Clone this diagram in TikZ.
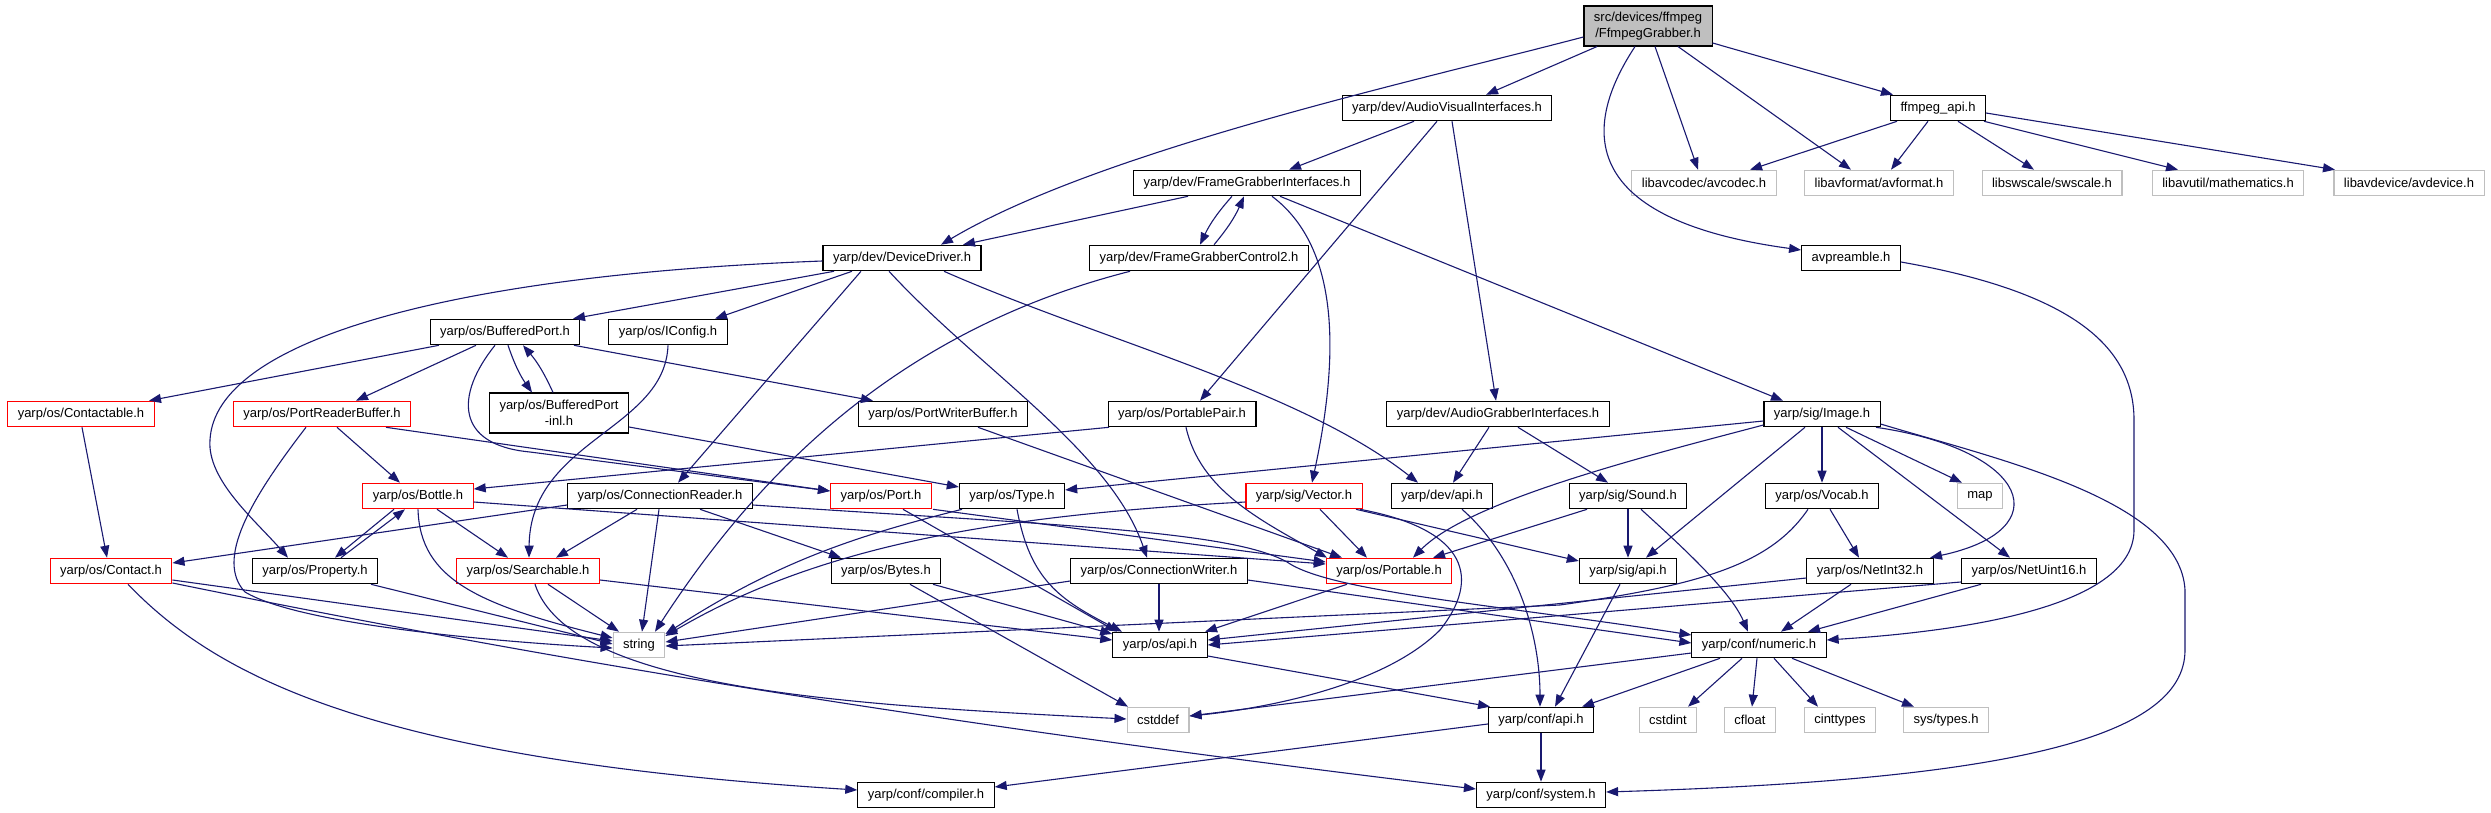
\documentclass[tikz,border=0pt]{standalone}
\usepackage{fontspec}
\setmainfont{Liberation Sans}
\usetikzlibrary{arrows.meta}
\definecolor{edgeblue}{RGB}{25,25,112}
\definecolor{nodegray}{RGB}{191,191,191}
\begin{document}
\begin{tikzpicture}[x=1pt,y=-1pt,
 box/.style={draw=black, rectangle, line width=1.1pt, minimum height=25.5pt, inner xsep=10pt, inner ysep=0pt, font=\fontsize{13}{15.5}\selectfont, text=black},
 redbox/.style={box, draw=red},
 graybox/.style={box, draw=nodegray},
 rootbox/.style={box, fill=nodegray, minimum height=40pt, align=center},
 e/.style={draw=edgeblue, line width=1.1pt, -{Triangle[length=12pt,width=9pt]}}
]
\fill[white] (0,0) rectangle (2491,813);
\useasboundingbox (0,0) rectangle (2491,813);
% nodes
\node[rootbox] (root) at (1648,26) {src/devices/ffmpeg\\/FfmpegGrabber.h};
\node[box] (avi) at (1447,108) {yarp/dev/AudioVisualInterfaces.h};
\node[box] (ffapi) at (1938,108) {ffmpeg\_api.h};
\node[box] (fgi) at (1247,183) {yarp/dev/FrameGrabberInterfaces.h};
\node[graybox] (avcodec) at (1704,183) {libavcodec/avcodec.h};
\node[graybox] (avformat) at (1879,183) {libavformat/avformat.h};
\node[graybox] (swscale) at (2052,183) {libswscale/swscale.h};
\node[graybox] (mathem) at (2228,183) {libavutil/mathematics.h};
\node[graybox] (avdevice) at (2409,183) {libavdevice/avdevice.h};
\node[box] (dd) at (902,258) {yarp/dev/DeviceDriver.h};
\node[box] (fgc2) at (1199,258) {yarp/dev/FrameGrabberControl2.h};
\node[box] (avpre) at (1851,258) {avpreamble.h};
\node[box] (bp) at (505,332) {yarp/os/BufferedPort.h};
\node[box] (iconfig) at (668,332) {yarp/os/IConfig.h};
\node[redbox] (contactable) at (81,414) {yarp/os/Contactable.h};
\node[redbox] (prb) at (322,414) {yarp/os/PortReaderBuffer.h};
\node[box, minimum height=40pt, align=center] (bpinl) at (559,413) {yarp/os/BufferedPort\\-inl.h};
\node[box] (pwb) at (943,414) {yarp/os/PortWriterBuffer.h};
\node[box] (ppair) at (1182,414) {yarp/os/PortablePair.h};
\node[box] (agi) at (1498,414) {yarp/dev/AudioGrabberInterfaces.h};
\node[box] (image) at (1822,414) {yarp/sig/Image.h};
\node[redbox] (bottle) at (418,496) {yarp/os/Bottle.h};
\node[box] (cr) at (660,496) {yarp/os/ConnectionReader.h};
\node[redbox] (port) at (881,496) {yarp/os/Port.h};
\node[box] (type) at (1012,496) {yarp/os/Type.h};
\node[redbox] (vector) at (1304,496) {yarp/sig/Vector.h};
\node[box] (devapi) at (1442,496) {yarp/dev/api.h};
\node[box] (sound) at (1628,496) {yarp/sig/Sound.h};
\node[box] (vocab) at (1822,496) {yarp/os/Vocab.h};
\node[graybox] (map) at (1980,496) {map};
\node[redbox] (contact) at (111,571) {yarp/os/Contact.h};
\node[box] (property) at (315,571) {yarp/os/Property.h};
\node[redbox] (searchable) at (528,571) {yarp/os/Searchable.h};
\node[box] (bytes) at (886,571) {yarp/os/Bytes.h};
\node[box] (cw) at (1159,571) {yarp/os/ConnectionWriter.h};
\node[redbox] (portable) at (1389,571) {yarp/os/Portable.h};
\node[box] (sigapi) at (1628,571) {yarp/sig/api.h};
\node[box] (netint32) at (1870,571) {yarp/os/NetInt32.h};
\node[box] (netuint16) at (2029,571) {yarp/os/NetUint16.h};
\node[graybox] (string) at (639,645) {string};
\node[box] (osapi) at (1160,645) {yarp/os/api.h};
\node[box] (numeric) at (1759,645) {yarp/conf/numeric.h};
\node[graybox] (cstddef) at (1158,720) {cstddef};
\node[box] (confapi) at (1541,720) {yarp/conf/api.h};
\node[graybox] (cstdint) at (1668,720) {cstdint};
\node[graybox] (cfloat) at (1750,720) {cfloat};
\node[graybox] (cinttypes) at (1840,720) {cinttypes};
\node[graybox] (systypes) at (1946,720) {sys/types.h};
\node[box] (compiler) at (926,795) {yarp/conf/compiler.h};
\node[box] (system) at (1541,795) {yarp/conf/system.h};
% edges from root
\draw[e] ([yshift=-11pt]root.west) .. controls (1420,80) and (1100,150) .. ([xshift=39pt]dd.north);
\draw[e] ([xshift=-51pt]root.south) -- ([xshift=39pt]avi.north);
\draw[e] ([xshift=7pt]root.south) -- ([xshift=-6pt]avcodec.north);
\draw[e] ([xshift=30pt]root.south) -- ([xshift=-28pt]avformat.north);
\draw[e] ([yshift=-17pt]root.east) -- ([xshift=-45pt]ffapi.north);
\draw[e] ([xshift=-13pt]root.south) .. controls (1580,130) and (1580,220) .. ([yshift=8pt]avpre.west);
\draw[e] ([xshift=-33pt]avi.south) -- ([xshift=42pt]fgi.north);
\draw[e] ([xshift=-10pt]avi.south) -- ([xshift=18pt]ppair.north);
\draw[e] ([xshift=5pt]avi.south) -- ([xshift=-2pt]agi.north);
\draw[e] ([xshift=-41pt]ffapi.south) -- ([xshift=46pt]avcodec.north);
\draw[e] ([xshift=-10pt]ffapi.south) -- ([xshift=12pt]avformat.north);
\draw[e] ([xshift=20pt]ffapi.south) -- ([xshift=-18pt]swscale.north);
\draw[e] ([xshift=46pt]ffapi.south) -- ([xshift=-50pt]mathem.north);
\draw[e] ([yshift=-5pt]ffapi.east) -- ([xshift=-74pt]avdevice.north);
\draw[e] ([yshift=-4pt]avpre.east) .. controls (2060,290) and (2134,340) .. (2134,420) -- (2134,530) .. controls (2134,610) and (1950,632) .. ([yshift=5pt]numeric.east);
\draw[e] ([xshift=-59pt]fgi.south) -- ([xshift=61pt]dd.north);
\draw[e] ([xshift=-15pt]fgi.south) to[bend right=8] ([xshift=1pt]fgc2.north);
\draw[e] ([xshift=15pt]fgc2.north) to[bend right=8] ([xshift=-3pt]fgi.south);
\draw[e] ([xshift=25pt]fgi.south) .. controls (1330,240) and (1345,330) .. ([xshift=8pt]vector.north);
\draw[e] ([xshift=33pt]fgi.south) -- ([xshift=-39pt]image.north);
\draw[e] ([xshift=-69pt]fgc2.south) .. controls (900,330) and (760,470) .. ([xshift=16pt]string.north);
% DeviceDriver
\draw[e] ([yshift=-3pt]dd.west) .. controls (450,275) and (215,340) .. (210,440) .. controls (207,480) and (255,520) .. ([xshift=-27pt]property.north);
\draw[e] ([xshift=-68pt]dd.south) -- ([xshift=68pt]bp.north);
\draw[e] ([xshift=-50pt]dd.south) -- ([xshift=47pt]iconfig.north);
\draw[e] ([xshift=-41pt]dd.south) -- ([xshift=18pt]cr.north);
\draw[e] ([xshift=-13pt]dd.south) .. controls (980,370) and (1110,450) .. ([xshift=-12pt]cw.north);
\draw[e] ([xshift=42pt]dd.south) .. controls (1100,340) and (1300,390) .. ([xshift=-24pt]devapi.north);
% BufferedPort
\draw[e] ([xshift=-66pt]bp.south) -- ([xshift=68pt]contactable.north);
\draw[e] ([xshift=-29pt]bp.south) -- ([xshift=34pt]prb.north);
\draw[e] ([xshift=-10pt]bp.south) .. controls (455,395) and (455,445) .. (530,452) -- ([yshift=5pt]port.west);
\draw[e] ([xshift=3pt]bp.south) to[bend right=8] ([xshift=-27pt]bpinl.north);
\draw[e] ([xshift=-6pt]bpinl.north) to[bend right=8] ([xshift=18pt]bp.south);
\draw[e] ([xshift=69pt]bp.south) -- ([xshift=-70pt]pwb.north);
\draw[e] ([yshift=-14pt]bpinl.east) -- ([yshift=9pt]type.west);
\draw[e] (iconfig.south) .. controls (665,430) and (530,440) .. ([xshift=1pt]searchable.north);
\draw[e] ([xshift=1pt]contactable.south) -- ([xshift=-4pt]contact.north);
\draw[e] ([xshift=15pt]prb.south) -- ([xshift=-18pt]bottle.north);
\draw[e] ([xshift=-16pt]prb.south) .. controls (250,500) and (215,560) .. (245,592) .. controls (300,625) and (500,642) .. ([yshift=-3pt]string.west);
\draw[e] ([xshift=64pt]prb.south) -- ([yshift=5pt]port.west);
\draw[e] ([xshift=35pt]pwb.south) -- ([xshift=-47pt]portable.north);
\draw[e] ([xshift=-73pt]ppair.south) -- ([yshift=7pt]bottle.east);
\draw[e] ([xshift=4pt]ppair.south) .. controls (1200,490) and (1260,520) .. ([xshift=-62pt]portable.north);
\draw[e] ([xshift=-9pt]agi.south) -- ([xshift=11pt]devapi.north);
\draw[e] ([xshift=20pt]agi.south) -- ([xshift=-20pt]sound.north);
% Image
\draw[e] ([yshift=-7pt]image.west) -- ([yshift=6pt]type.east);
\draw[e] ([yshift=-11pt]image.west) .. controls (1650,455) and (1470,500) .. ([xshift=24pt]portable.north);
\draw[e] ([xshift=-17pt]image.south) -- ([xshift=18pt]sigapi.north);
\draw[e] (image.south) -- (vocab.north);
\draw[e] ([xshift=24pt]image.south) -- ([xshift=-18pt]map.north);
\draw[e] ([xshift=54pt]image.south) .. controls (2030,450) and (2060,530) .. ([xshift=60pt]netint32.north);
\draw[e] ([xshift=16pt]image.south) -- ([xshift=-19pt]netuint16.north);
\draw[e] ([yshift=-10pt]image.east) .. controls (2000,460) and (2180,500) .. (2185,590) -- (2185,650) .. controls (2185,740) and (2000,780) .. ([yshift=3pt]system.east);
% row 6
\draw[e] ([xshift=-24pt]bottle.south) -- ([xshift=20pt]property.north);
\draw[e] ([xshift=26pt]property.north) -- ([xshift=-13pt]bottle.south);
\draw[e] ([xshift=19pt]bottle.south) -- ([xshift=-20pt]searchable.north);
\draw[e] (bottle.south) .. controls (420,580) and (480,605) .. ([yshift=7pt]string.west);
\draw[e] ([yshift=-6pt]bottle.east) -- ([yshift=7pt]portable.west);
\draw[e] ([xshift=56pt]property.south) -- ([yshift=1pt]string.west);
\draw[e] ([yshift=-9pt]cr.west) -- ([yshift=8pt]contact.east);
\draw[e] ([xshift=-23pt]cr.south) -- ([xshift=28pt]searchable.north);
\draw[e] ([xshift=-1pt]cr.south) -- ([xshift=3pt]string.north);
\draw[e] ([xshift=40pt]cr.south) -- ([xshift=-45pt]bytes.north);
\draw[e] ([yshift=-9pt]cr.east) .. controls (1050,525) and (1230,530) .. (1287,562) .. controls (1330,592) and (1500,605) .. ([yshift=10pt]numeric.west);
\draw[e] ([xshift=52pt]port.south) -- ([yshift=9pt]portable.west);
\draw[e] ([xshift=22pt]port.south) -- ([xshift=-43pt]osapi.north);
\draw[e] ([xshift=-50pt]type.south) .. controls (860,535) and (780,560) .. ([yshift=11pt]string.east);
\draw[e] ([xshift=5pt]type.south) .. controls (1030,580) and (1060,600) .. ([xshift=-38pt]osapi.north);
\draw[e] ([xshift=16pt]vector.south) -- ([xshift=-22pt]portable.north);
\draw[e] ([xshift=52pt]vector.south) -- ([yshift=10pt]sigapi.west);
\draw[e] ([yshift=-6pt]vector.west) .. controls (1000,515) and (820,545) .. ([yshift=9pt]string.east);
\draw[e] ([xshift=56pt]vector.south) .. controls (1470,530) and (1480,580) .. (1440,630) .. controls (1380,690) and (1250,710) .. ([yshift=4pt]cstddef.east);
\draw[e] ([xshift=20pt]devapi.south) .. controls (1520,560) and (1540,640) .. ([xshift=-1pt]confapi.north);
\draw[e] ([xshift=-41pt]sound.south) -- ([xshift=44pt]portable.north);
\draw[e] (sound.south) -- (sigapi.north);
\draw[e] ([xshift=13pt]sound.south) .. controls (1680,545) and (1730,590) .. ([xshift=-11pt]numeric.north);
\draw[e] ([xshift=8pt]vocab.south) -- ([xshift=-11pt]netint32.north);
\draw[e] ([xshift=-14pt]vocab.south) .. controls (1770,565) and (1700,585) .. (1560,605) -- ([yshift=-1pt]string.east);
% row 7
\draw[e] ([yshift=-9pt]contact.east) -- ([yshift=4pt]string.west);
\draw[e] ([yshift=-12pt]contact.east) .. controls (500,650) and (900,720) .. ([yshift=6pt]system.west);
\draw[e] ([xshift=17pt]contact.south) .. controls (220,680) and (380,760) .. ([yshift=5pt]compiler.west);
\draw[e] ([xshift=20pt]searchable.south) -- ([xshift=-20pt]string.north);
\draw[e] ([xshift=7pt]searchable.south) .. controls (570,690) and (850,705) .. ([yshift=1pt]cstddef.west);
\draw[e] ([yshift=-9pt]searchable.east) -- ([yshift=5pt]osapi.west);
\draw[e] ([xshift=47pt]bytes.south) -- ([yshift=11pt]osapi.west);
\draw[e] ([xshift=24pt]bytes.south) -- ([xshift=-30pt]cstddef.north);
\draw[e] (cw.south) -- ([xshift=-1pt]osapi.north);
\draw[e] ([yshift=-10pt]cw.west) -- ([yshift=3pt]string.east);
\draw[e] ([yshift=-9pt]cw.east) -- ([yshift=2pt]numeric.west);
\draw[e] ([xshift=-42pt]portable.south) -- ([xshift=45pt]osapi.north);
\draw[e] ([xshift=-8pt]sigapi.south) -- ([xshift=14pt]confapi.north);
\draw[e] ([xshift=-19pt]netint32.south) -- ([xshift=22pt]numeric.north);
\draw[e] ([yshift=-7pt]netint32.west) -- ([yshift=5pt]osapi.east);
\draw[e] ([xshift=-48pt]netuint16.south) -- ([xshift=49pt]numeric.north);
\draw[e] ([yshift=-11pt]netuint16.west) -- (osapi.east);
% row 8
\draw[e] ([yshift=-8pt]numeric.west) -- ([yshift=4pt]cstddef.east);
\draw[e] ([xshift=-39pt]numeric.south) -- ([xshift=41pt]confapi.north);
\draw[e] ([xshift=-17pt]numeric.south) -- ([xshift=20pt]cstdint.north);
\draw[e] ([xshift=-2pt]numeric.south) -- ([xshift=2pt]cfloat.north);
\draw[e] ([xshift=15pt]numeric.south) -- ([xshift=-22pt]cinttypes.north);
\draw[e] ([xshift=33pt]numeric.south) -- ([xshift=-32pt]systypes.north);
\draw[e] ([yshift=-11pt]osapi.east) -- ([xshift=-51pt]confapi.north);
\draw[e] ([yshift=-4pt]confapi.west) -- ([yshift=8pt]compiler.east);
\draw[e] (confapi.south) -- (system.north);
\end{tikzpicture}
\end{document}
